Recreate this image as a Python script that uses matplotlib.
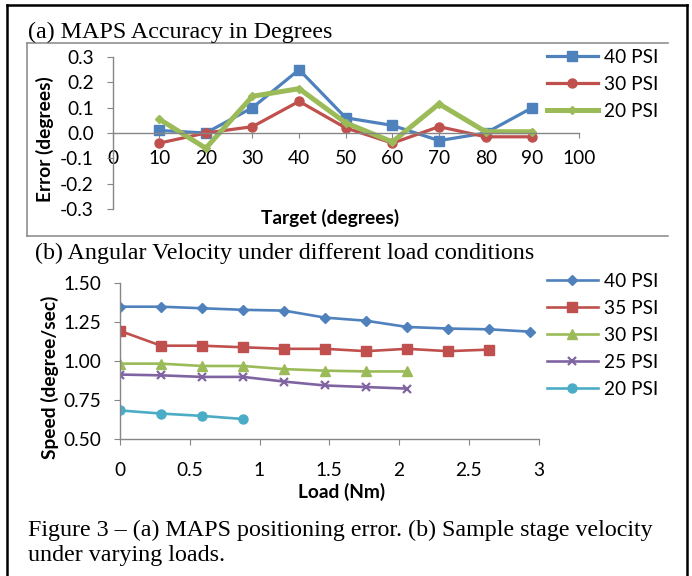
import matplotlib
matplotlib.use('Agg')
import matplotlib.pyplot as plt
from matplotlib.lines import Line2D

plt.rcParams['axes.unicode_minus'] = False
plt.rcParams['font.family'] = ['Lato', 'DejaVu Sans']

# ---------------- data: chart (a) ----------------
targets = [10, 20, 30, 40, 50, 60, 70, 80, 90]
err_40 = [0.01, 0.00, 0.10, 0.25, 0.06, 0.03, -0.03, 0.00, 0.10]
err_30 = [-0.04, 0.00, 0.025, 0.125, 0.02, -0.04, 0.025, -0.015, -0.015]
err_20 = [0.055, -0.06, 0.145, 0.175, 0.04, -0.035, 0.115, 0.005, 0.005]
a_labels = ['40 PSI', '30 PSI', '20 PSI']
a_xticks = [0, 10, 20, 30, 40, 50, 60, 70, 80, 90, 100]
a_yticks = [-0.3, -0.2, -0.1, 0.0, 0.1, 0.2, 0.3]
a_yticklabels = ['-0.3', '-0.2', '-0.1', '0.0', '0.1', '0.2', '0.3']

# ---------------- data: chart (b) ----------------
load_40 = [0, 0.294, 0.588, 0.882, 1.176, 1.47, 1.764, 2.058, 2.352, 2.646, 2.94]
speed_40 = [1.35, 1.35, 1.34, 1.33, 1.325, 1.28, 1.26, 1.22, 1.21, 1.205, 1.19]
load_35 = [0, 0.294, 0.588, 0.882, 1.176, 1.47, 1.764, 2.058, 2.352, 2.646]
speed_35 = [1.195, 1.10, 1.10, 1.09, 1.08, 1.08, 1.065, 1.08, 1.065, 1.075]
load_30 = [0, 0.294, 0.588, 0.882, 1.176, 1.47, 1.764, 2.058]
speed_30 = [0.985, 0.985, 0.97, 0.97, 0.95, 0.94, 0.935, 0.935]
load_25 = [0, 0.294, 0.588, 0.882, 1.176, 1.47, 1.764, 2.058]
speed_25 = [0.915, 0.91, 0.90, 0.90, 0.87, 0.845, 0.835, 0.825]
load_20 = [0, 0.294, 0.588, 0.882]
speed_20 = [0.685, 0.665, 0.65, 0.63]
b_labels = ['40 PSI', '35 PSI', '30 PSI', '25 PSI', '20 PSI']
b_xticks = [0, 0.5, 1, 1.5, 2, 2.5, 3]
b_xticklabels = ['0', '0.5', '1', '1.5', '2', '2.5', '3']
b_yticks = [0.50, 0.75, 1.00, 1.25, 1.50]
b_yticklabels = ['0.50', '0.75', '1.00', '1.25', '1.50']

BLUE, RED, GREEN, PURPLE, AQUA = '#4F81BD', '#C0504D', '#9BBB59', '#8064A2', '#4BACC6'
GREY = '#868686'
W, H = 692, 576
SANS = 13.8
SERIF = 17.3

fig = plt.figure(figsize=(W / 100, H / 100), dpi=100)

def fx(px):
    return px / W

def fy(py):
    return 1 - py / H

# ---------------- chart (a) ----------------
axa = fig.add_axes([fx(112.5), fy(209), fx(579) - fx(112.5), fy(57) - fy(209)])
axa.plot(targets, err_40, color=BLUE, lw=2.3, marker='s', ms=6.5, label=a_labels[0])
axa.plot(targets, err_30, color=RED, lw=2.3, marker='o', ms=6.5, label=a_labels[1])
axa.plot(targets, err_20, color=GREEN, lw=3.6, marker='D', ms=4, label=a_labels[2])
axa.set_xlim(0, 100)
axa.set_ylim(-0.3, 0.3)
for s in ['top', 'right']:
    axa.spines[s].set_visible(False)
axa.spines['bottom'].set_position(('data', 0))
for s in ['left', 'bottom']:
    axa.spines[s].set_color(GREY)
    axa.spines[s].set_linewidth(1.0)
axa.set_xticks(a_xticks)
axa.set_xticklabels([str(t) for t in a_xticks])
axa.set_yticks(a_yticks)
axa.set_yticklabels(a_yticklabels)
axa.tick_params(axis='x', direction='out', length=3.6, color=GREY, pad=8.5, labelsize=SANS)
axa.tick_params(axis='y', direction='out', length=4.5, color=GREY, pad=9, labelsize=SANS)
axa.patch.set_visible(False)
axa.legend(loc='upper left', bbox_to_anchor=(fx(547), fy(49)), bbox_transform=fig.transFigure,
           frameon=False, fontsize=SANS, handlelength=2.65, handletextpad=0.3,
           labelspacing=0.52, borderpad=0, borderaxespad=0)

fig.text(fx(45), fy(139), 'Error (degrees)', rotation=90, ha='center', va='center',
         fontsize=SANS, fontweight='bold')
fig.text(fx(330), fy(218), 'Target (degrees)', ha='center', va='center',
         fontsize=SANS, fontweight='bold')
fig.text(fx(28), fy(32), '(a) MAPS Accuracy in Degrees', ha='left', va='center',
         fontsize=SERIF, family='Liberation Serif')

# grey chart frame (a)
for xs, ys in [((27, 668), (43, 43)), ((27, 27), (43, 236)), ((27, 668), (236, 236))]:
    fig.add_artist(Line2D([fx(xs[0]), fx(xs[1])], [fy(ys[0]), fy(ys[1])],
                          transform=fig.transFigure, color=GREY, lw=1.1))

# ---------------- chart (b) ----------------
axb = fig.add_axes([fx(120), fy(439.3), fx(538.5) - fx(120), fy(283.3) - fy(439.3)])
axb.plot(load_40, speed_40, color=BLUE, lw=1.9, marker='D', ms=5.5, label=b_labels[0])
axb.plot(load_35, speed_35, color=RED, lw=1.9, marker='s', ms=6.5, label=b_labels[1])
axb.plot(load_30, speed_30, color=GREEN, lw=1.9, marker='^', ms=7, label=b_labels[2])
axb.plot(load_25, speed_25, color=PURPLE, lw=1.9, marker='x', ms=6, mew=1.6, label=b_labels[3])
axb.plot(load_20, speed_20, color=AQUA, lw=1.9, marker='o', ms=6.5, label=b_labels[4])
axb.set_xlim(0, 3)
axb.set_ylim(0.5, 1.5)
for s in ['top', 'right']:
    axb.spines[s].set_visible(False)
for s in ['left', 'bottom']:
    axb.spines[s].set_color(GREY)
    axb.spines[s].set_linewidth(1.0)
axb.set_xticks(b_xticks)
axb.set_xticklabels(b_xticklabels)
axb.set_yticks(b_yticks)
axb.set_yticklabels(b_yticklabels)
axb.tick_params(axis='x', direction='out', length=4.5, color=GREY, pad=11.5, labelsize=SANS)
axb.tick_params(axis='y', direction='out', length=4.5, color=GREY, pad=9, labelsize=SANS)
axb.patch.set_visible(False)
axb.legend(loc='upper left', bbox_to_anchor=(fx(547), fy(273)), bbox_transform=fig.transFigure,
           frameon=False, fontsize=SANS, handlelength=2.65, handletextpad=0.3,
           labelspacing=0.52, borderpad=0, borderaxespad=0)

fig.text(fx(50), fy(377), 'Speed (degree/sec)', rotation=90, ha='center', va='center',
         fontsize=SANS, fontweight='bold')
fig.text(fx(342), fy(492), 'Load (Nm)', ha='center', va='center',
         fontsize=SANS, fontweight='bold')
fig.text(fx(35), fy(253), '(b) Angular Velocity under different load conditions', ha='left',
         va='center', fontsize=SERIF, family='Liberation Serif')

# caption
fig.text(fx(28), fy(530), 'Figure 3 \u2013 (a) MAPS positioning error. (b) Sample stage velocity',
         ha='left', va='center', fontsize=SERIF, family='Liberation Serif')
fig.text(fx(28), fy(555), 'under varying loads.', ha='left', va='center',
         fontsize=SERIF, family='Liberation Serif')

# outer black border
for xs, ys in [((7, 687), (5, 5)), ((7, 7), (5, 580)), ((687, 687), (5, 580))]:
    fig.add_artist(Line2D([fx(xs[0]), fx(xs[1])], [fy(ys[0]), fy(ys[1])],
                          transform=fig.transFigure, color='black', lw=1.8))

fig.savefig('out.png', dpi=100)
